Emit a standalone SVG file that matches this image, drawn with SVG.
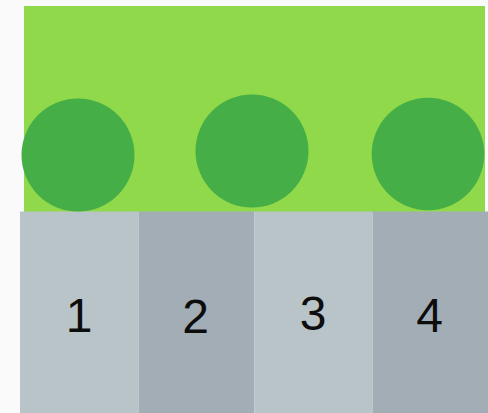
<svg xmlns="http://www.w3.org/2000/svg" width="488" height="413" viewBox="0 0 488 413">
<style>
.lite{fill:#b9c4c9}
.dark{fill:#a2adb6}
.ball{fill:#46ae46}
.num{font-family:"Liberation Sans",Arial,sans-serif;font-size:48px;fill:#0d0d0d;text-anchor:middle}
</style>
<rect width="488" height="413" fill="#fafafa"/>
<g id="field">
<rect x="24" y="6" width="461" height="206" fill="#8fd94b"/>
</g>
<g id="strip1"><rect class="lite" x="20" y="211.5" width="118.5" height="202"/><text class="num" x="79" y="332">1</text></g>
<g id="strip2"><rect class="dark" x="138.5" y="211.5" width="116" height="202"/><text class="num" x="195.5" y="333">2</text></g>
<g id="strip3"><rect class="lite" x="254.5" y="211.5" width="118" height="202"/><text class="num" x="313" y="329.5">3</text></g>
<g id="strip4"><rect class="dark" x="372.5" y="211.5" width="115.5" height="202"/><text class="num" x="429.5" y="331.5">4</text></g>
<g id="ball1"><circle class="ball" cx="78" cy="155" r="56.5"/></g>
<g id="ball2"><circle class="ball" cx="252" cy="151" r="56.5"/></g>
<g id="ball3"><circle class="ball" cx="428" cy="154" r="56.3"/></g>
<g id="connectors"></g>
</svg>
